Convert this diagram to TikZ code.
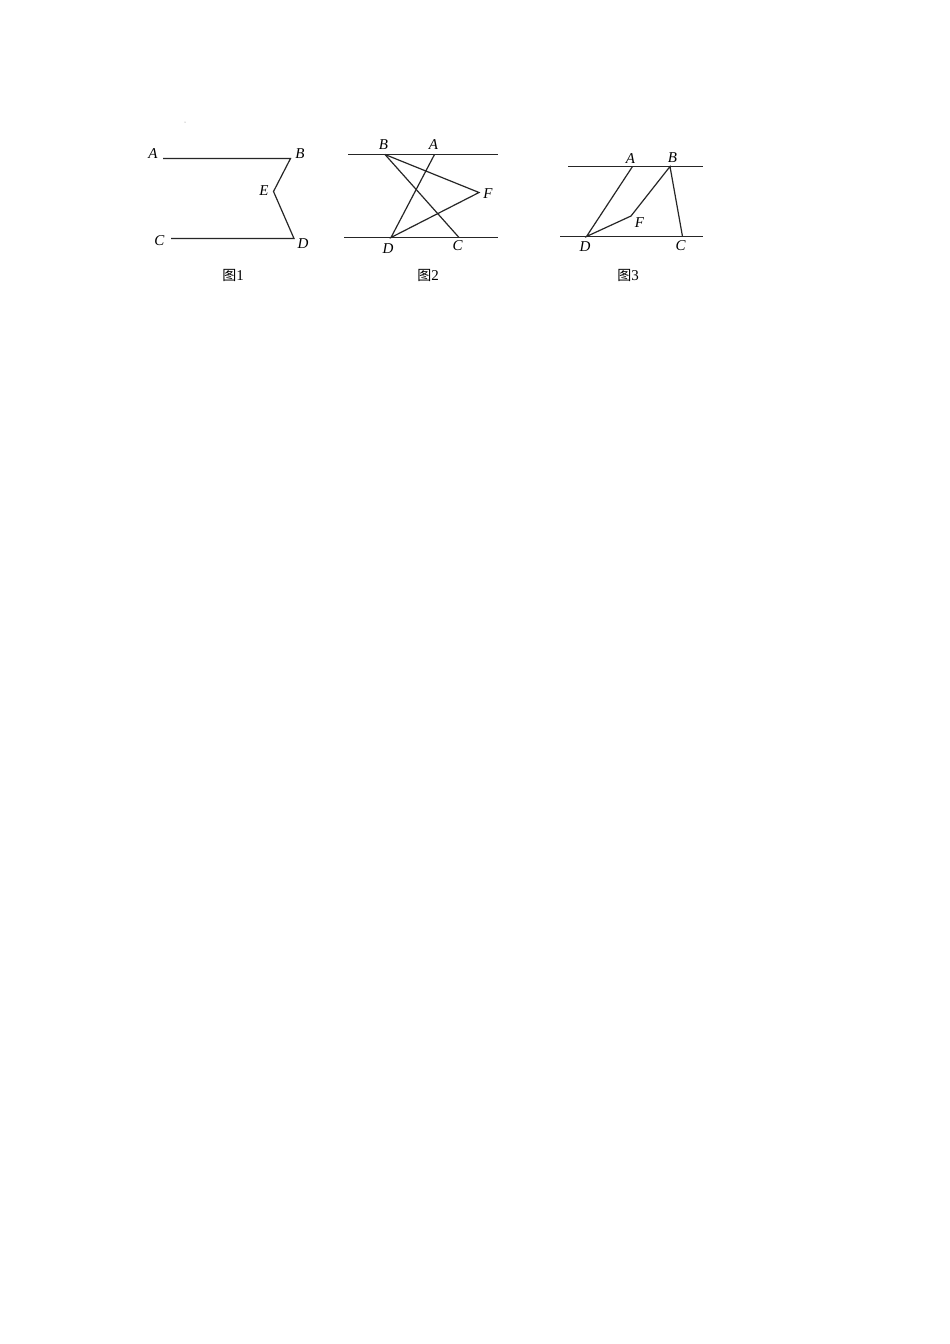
\documentclass[tikz,border=0pt]{standalone}
\usepackage{fontspec}
\setmainfont{Liberation Serif}
\newfontfamily\cjk{Noto Sans CJK SC}
\begin{document}
\begin{tikzpicture}[x=1pt,y=-1pt,
  seg/.style={line width=1.2pt,draw=black!85},
  lbl/.style={inner sep=0pt,font=\fontsize{15}{17}\selectfont\itshape},
  figcap/.style={inner sep=0pt,font=\fontsize{15}{17}\selectfont}]
\useasboundingbox (0,0) rectangle (950,1344);
\fill[white] (0,0) rectangle (950,1344);
% stray dot
\fill[black!50] (185,122) circle (0.5);
% ---------- Figure 1 ----------
\coordinate (A1) at (163,158.5);
\coordinate (B1) at (290.5,158.5);
\coordinate (E1) at (273.5,191.5);
\coordinate (D1) at (294,238.5);
\coordinate (C1) at (171,238.5);
\draw[seg] (A1) -- (B1) -- (E1) -- (D1) -- (C1);
\node[lbl] (lA1) at (153,154) {A};
\node[lbl] (lB1) at (300,154) {B};
\node[lbl] (lE1) at (264,191) {E};
\node[lbl] (lC1) at (159.5,241) {C};
\node[lbl] (lD1) at (303,243.5) {D};
\node[figcap] (c1) at (233,275) {{\cjk\fontsize{14}{16}\selectfont 图}1};
% ---------- Figure 2 ----------
\coordinate (T2a) at (348,154.5);
\coordinate (T2b) at (498,154.5);
\coordinate (U2a) at (344,237.5);
\coordinate (U2b) at (498,237.5);
\coordinate (B2) at (385,154.5);
\coordinate (A2) at (434.5,154.5);
\coordinate (F2) at (479,192.5);
\coordinate (D2) at (391,237.5);
\coordinate (C2) at (459,237.5);
\draw[seg] (T2a) -- (T2b);
\draw[seg] (U2a) -- (U2b);
\draw[seg] (B2) -- (F2) -- (D2) -- (A2);
\draw[seg] (B2) -- (C2);
\node[lbl] (lB2) at (383.5,145) {B};
\node[lbl] (lA2) at (433.5,145) {A};
\node[lbl] (lF2) at (488,194) {F};
\node[lbl] (lD2) at (388,248.5) {D};
\node[lbl] (lC2) at (457.5,245.5) {C};
\node[figcap] (c2) at (428,275) {{\cjk\fontsize{14}{16}\selectfont 图}2};
% ---------- Figure 3 ----------
\coordinate (T3a) at (568,166.5);
\coordinate (T3b) at (703,166.5);
\coordinate (U3a) at (560,236.5);
\coordinate (U3b) at (703,236.5);
\coordinate (A3) at (632.5,166.5);
\coordinate (B3) at (670,166.5);
\coordinate (F3) at (631,216);
\coordinate (D3) at (586.5,236.5);
\coordinate (C3) at (682.5,236.5);
\draw[seg] (T3a) -- (T3b);
\draw[seg] (U3a) -- (U3b);
\draw[seg] (A3) -- (D3) -- (F3) -- (B3) -- (C3);
\node[lbl] (lA3) at (630.5,158.5) {A};
\node[lbl] (lB3) at (672.5,158) {B};
\node[lbl] (lF3) at (639.5,223) {F};
\node[lbl] (lD3) at (585,246.5) {D};
\node[lbl] (lC3) at (680.5,245.5) {C};
\node[figcap] (c3) at (628,275.5) {{\cjk\fontsize{14}{16}\selectfont 图}3};
\end{tikzpicture}
\end{document}
